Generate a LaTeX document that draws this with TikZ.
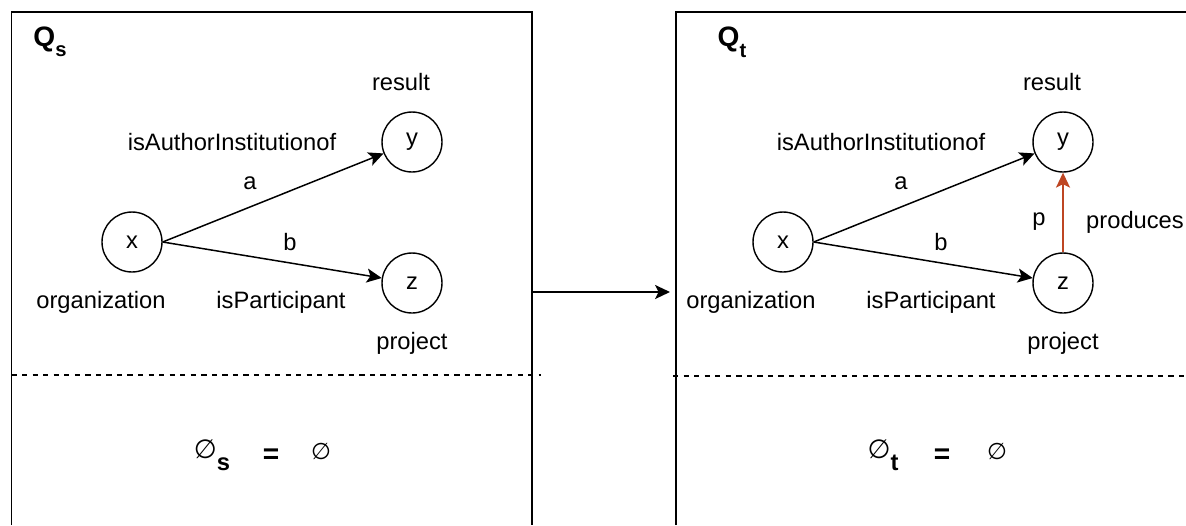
\documentclass[tikz,border=0pt]{standalone}
\usepackage{fontspec}
\setmainfont{Liberation Sans}
\newfontfamily\symfont{DejaVu Sans}
\usepackage{tikz}
\usetikzlibrary{arrows.meta}
\usepackage{xcolor}
\definecolor{prodred}{RGB}{190,70,35}

\tikzset{
  var/.style={draw, circle, minimum size=1.2cm, inner sep=0pt, line width=0.8pt},
  lbl/.style={inner sep=0pt},
  rel/.style={line width=0.85pt, -{Stealth[length=8.5pt, width=8pt, inset=2pt]}},
  frame/.style={line width=1.1pt},
  sepline/.style={line width=0.75pt, dash pattern=on 3pt off 3pt}
}

\begin{document}
\begin{tikzpicture}[x=0.02cm, y=-0.02cm, font=\fontsize{13.5}{16}\selectfont]
\useasboundingbox (0,0) rectangle (1186,525);

% source query Q_s
\draw[frame] (11.5,525) -- (11.5,12) -- (532,12) -- (532,525);
\draw[sepline] (11.5,375) -- (541,375);
\node[lbl] (qs) at (50,42) {\fontsize{16}{18}\selectfont\bfseries Q\raisebox{-6pt}{\fontsize{11.5}{12}\selectfont s}};

\node[var] (xs) at (132,242) {x};
\node[var] (ys) at (412,142) {y};
\node[var] (zs) at (412,283) {z};

\node[lbl] (xs_l) at (101,302) {organization};
\node[lbl] (ys_l) at (401,82) {result};
\node[lbl] (zs_l) at (412,343) {project};

\draw[rel] (xs.east) -- (ys);
\draw[rel] (xs.east) -- (zs);
\node[lbl] (as_l) at (232,142) {isAuthorInstitutionof};
\node[lbl] (as) at (250,183) {a};
\node[lbl] (bs) at (290,242) {b};
\node[lbl] (bs_l) at (281,302) {isParticipant};

\node[lbl] (es) at (212,455) {{\symfont\fontsize{15}{17}\selectfont ∅}\raisebox{-7pt}{\fontsize{13.5}{14}\selectfont\bfseries s}};
\node[lbl] (eqs) at (271,456) {\fontsize{16}{18}\selectfont\bfseries =};
\node[lbl] (ns) at (321,451) {\symfont\fontsize{13}{15}\selectfont ∅};

% target query Q_t
\draw[frame] (676,525) -- (676,12) -- (1186,12);
\draw[sepline] (673,376) -- (1186,376);
\node[lbl] (qt) at (732,42) {\fontsize{16}{18}\selectfont\bfseries Q\raisebox{-6pt}{\fontsize{11.5}{12}\selectfont t}};

\node[var] (xt) at (783,242) {x};
\node[var] (yt) at (1063,142) {y};
\node[var] (zt) at (1063,283) {z};

\node[lbl] (xt_l) at (751,302) {organization};
\node[lbl] (yt_l) at (1052,82) {result};
\node[lbl] (zt_l) at (1063,343) {project};

\draw[rel] (xt.east) -- (yt);
\draw[rel] (xt.east) -- (zt);
\draw[rel, prodred] (zt.north) -- (yt.south);
\node[lbl] (at_l) at (881,142) {isAuthorInstitutionof};
\node[lbl] (at) at (901,183) {a};
\node[lbl] (bt) at (941,242) {b};
\node[lbl] (bt_l) at (931,302) {isParticipant};
\node[lbl] (pt) at (1039,222) {p};
\node[lbl] (pt_l) at (1135,222) {produces};

\node[lbl] (et) at (883,455) {{\symfont\fontsize{15}{17}\selectfont ∅}\raisebox{-7pt}{\fontsize{13.5}{14}\selectfont\bfseries t}};
\node[lbl] (eqt) at (942,456) {\fontsize{16}{18}\selectfont\bfseries =};
\node[lbl] (nt) at (997,451) {\symfont\fontsize{13}{15}\selectfont ∅};

% rewriting step
\coordinate (qs_out) at (532,292);
\coordinate (qt_in) at (670,292);
\draw[rel] (qs_out) -- (qt_in);
\end{tikzpicture}
\end{document}
